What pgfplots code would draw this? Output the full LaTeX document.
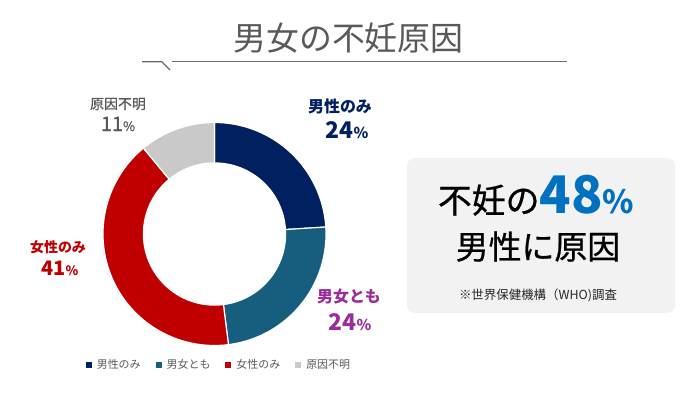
\documentclass[border=0pt]{standalone}
\usepackage{fontspec}
\setmainfont{Noto Sans CJK JP}
\newfontfamily\jpmed{Noto Sans CJK JP}[FakeBold=0.7]
\usepackage{pgfplots}
\pgfplotsset{compat=1.18}
\definecolor{cnavy}{HTML}{002060}
\definecolor{cteal}{HTML}{175E7E}
\definecolor{cred}{HTML}{C00000}
\definecolor{cgray}{HTML}{C9C9C9}
\definecolor{cpurple}{HTML}{9B2C9B}
\definecolor{ctext}{HTML}{595959}
\definecolor{cblue}{HTML}{0070C0}
\definecolor{cbox}{HTML}{F2F2F2}
\newcommand{\fs}[1]{\fontsize{#1}{#1}\selectfont}
\begin{document}
\begin{tikzpicture}[x=1bp,y=1bp]
\useasboundingbox[fill=white] (0,0) rectangle (700,394);
\coordinate (C) at (214.5,160);
% title
\node[text=ctext, font=\fs{33}] at (348.5,356) {男女の不妊原因};
\draw[color=ctext!90, line width=1.3bp] (142,332.3) -- (161.7,332.3) -- (170,324) ;
\draw[color=ctext!90, line width=1.3bp] (171.7,332.3) -- (567,332.3);
% box
\fill[cbox, rounded corners=8bp] (407,81) rectangle (675,236);
\node[anchor=base, inner sep=0pt] at (536,181) {{\fs{34}\jpmed 不妊の}{\fs{52}\bfseries\color{cblue}48}{\fs{32}\bfseries\color{cblue}\%}};
\node[anchor=base, inner sep=0pt, font=\fs{33}\jpmed] at (538,135) {男性に原因};
\node[text=black!85, font=\fs{12.5}] at (538,99) {※世界保健機構（WHO)調査};
\begin{axis}[at={(C)}, anchor=origin, scale only axis,
  width=223bp, height=223bp, xmin=-1, xmax=1, ymin=-1, ymax=1,
  hide axis, clip=false,
  legend columns=4,
  legend style={draw=none, fill=none, at={(axis cs:0.04,-1.175)}, anchor=center,
    font=\fs{11}, text=ctext, inner sep=0pt,
    /tikz/every even column/.append style={column sep=13bp},
    /tikz/every odd column/.append style={column sep=3bp}},
  legend image code/.code={\fill[#1, draw=none] (0bp,-3bp) rectangle (6bp,3bp);},
]
\addplot[fill=cnavy, draw=white, line width=1.2bp, domain={90-3.6*24}:90, samples=80, variable=\t]
  ({cos(t)},{sin(t)}) -- (0,0) -- cycle;
\addlegendentry{男性のみ}
\addplot[fill=cteal, draw=white, line width=1.2bp, domain={90-3.6*48}:{90-3.6*24}, samples=80, variable=\t]
  ({cos(t)},{sin(t)}) -- (0,0) -- cycle;
\addlegendentry{男女とも}
\addplot[fill=cred, draw=white, line width=1.2bp, domain={90-3.6*89}:{90-3.6*48}, samples=120, variable=\t]
  ({cos(t)},{sin(t)}) -- (0,0) -- cycle;
\addlegendentry{女性のみ}
\addplot[fill=cgray, draw=white, line width=1.2bp, domain={90-3.6*100}:{90-3.6*89}, samples=50, variable=\t]
  ({cos(t)},{sin(t)}) -- (0,0) -- cycle;
\addlegendentry{原因不明}
\addplot[forget plot, fill=white, draw=none, domain=0:360, samples=150, variable=\t]
  ({0.643*cos(t)},{0.643*sin(t)}) -- cycle;
\end{axis}
% data labels
\node[text=cnavy, font=\fs{16}\bfseries] at (340,288) {男性のみ};
\node[text=cnavy, anchor=base] at (347,256) {{\fs{23}\bfseries 24}{\fs{15}\bfseries\%}};
\node[text=cpurple, font=\fs{16}\bfseries] at (349,98) {男女とも};
\node[text=cpurple, anchor=base] at (350,64) {{\fs{23}\bfseries 24}{\fs{15}\bfseries\%}};
\node[text=cred, font=\fs{14}\bfseries] at (58,147) {女性のみ};
\node[text=cred, anchor=base] at (60,119) {{\fs{20}\bfseries 41}{\fs{13}\bfseries\%}};
\node[text=ctext, font=\fs{14}\jpmed] at (118,290) {原因不明};
\node[text=ctext, anchor=base] at (118,263) {{\fs{20}\jpmed 11}{\fs{13}\jpmed\%}};
\end{tikzpicture}
\end{document}
